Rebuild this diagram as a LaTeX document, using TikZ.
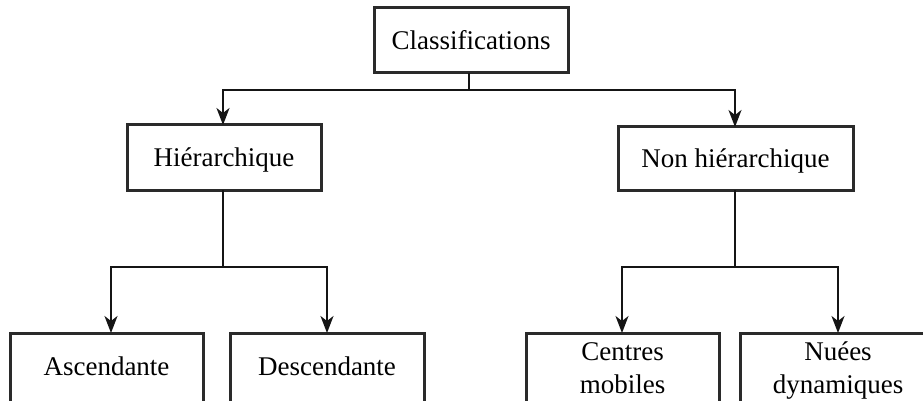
\documentclass[tikz,border=0pt]{standalone}
\usepackage{fontspec}
\setmainfont{Liberation Serif}
\usetikzlibrary{arrows.meta}
\definecolor{boxline}{HTML}{2A2A2A}
\definecolor{conline}{HTML}{151515}
\begin{document}
\begin{tikzpicture}[x=1pt,y=-1pt,
  box/.style={draw=boxline, line width=3pt, fill=white, inner sep=0pt, outer sep=0pt,
    font=\fontsize{27}{33}\selectfont},
  topbox/.style={box, text height=18.4pt, text depth=0pt},
  lowbox/.style={box, anchor=north, minimum height=80pt},
  txt/.style={inner sep=0pt, align=center, font=\fontsize{27}{33}\selectfont},
  con/.style={draw=conline, line width=1.8pt},
  arr/.style={con, -{Stealth[length=17pt, width=13pt, inset=5pt]}}
]
\useasboundingbox (0,0) rectangle (923,401);
\clip (0,0) rectangle (923,401);
\fill[white] (0,0) rectangle (923,401);

% boxes
\node[topbox, minimum width=194pt, minimum height=65pt] (cls) at (471,40.5) {Classifications};
\node[topbox, minimum width=194pt, minimum height=65pt] (hier) at (224,157.5) {Hiérarchique};
\node[topbox, minimum width=235pt, minimum height=63pt] (nonh) at (735.5,158.5) {Non hiérarchique};

\node[lowbox, minimum width=193pt] (asc) at (106.5,333) {};
\node[lowbox, minimum width=194pt] (desc) at (327,333) {};
\node[lowbox, minimum width=193pt] (cm) at (622.5,333) {};
\node[lowbox, minimum width=196pt] (nd) at (838,333) {};

\node[txt, anchor=base] (asct) at (106.5,375) {Ascendante};
\node[txt, anchor=base] (desct) at (327,375) {Descendante};
\node[txt, anchor=north] (cmt) at (622.5,342) {Centres\\mobiles};
\node[txt, anchor=north] (ndt) at (838,342) {Nuées\\dynamiques};

% junctions
\coordinate (j1) at (469,90);
\coordinate (j2) at (223,267);
\coordinate (j3) at (735,267);

% connectors
\draw[con] (cls.south -| j1) -- (j1);
\draw[arr] (j1) -| (hier.north -| 223,0);
\draw[arr] (j1) -| (nonh.north -| 735,0);

\draw[con] (hier.south -| j2) -- (j2);
\draw[arr] (j2) -| (asc.north -| 111,0);
\draw[arr] (j2) -| (desc.north);

\draw[con] (nonh.south -| j3) -- (j3);
\draw[arr] (j3) -| (cm.north -| 622,0);
\draw[arr] (j3) -| (nd.north);
\end{tikzpicture}
\end{document}
